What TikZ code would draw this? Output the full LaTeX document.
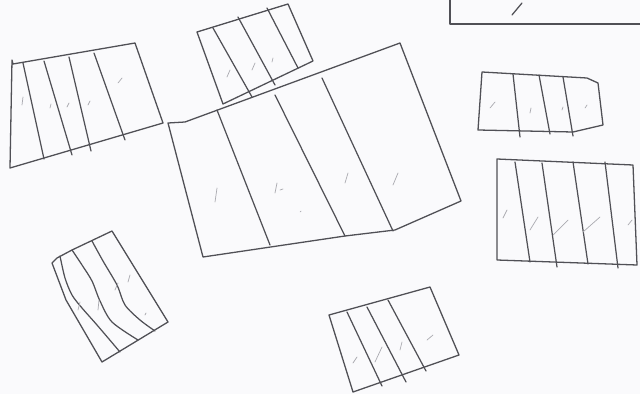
\documentclass[tikz,border=0pt]{standalone}
\usepackage{tikz}
\usetikzlibrary{calc}
\definecolor{paper}{RGB}{250,250,252}
\definecolor{pencil}{RGB}{80,80,86}
\definecolor{smudge}{RGB}{170,170,176}

\begin{document}
\begin{tikzpicture}[x=0.03cm,y=-0.03cm,
  outline/.style={draw=pencil, line width=1.1pt, line join=round, line cap=round},
  stripe/.style={draw=pencil, line width=1.05pt, line cap=round},
  tick/.style={draw=smudge, line width=0.6pt, line cap=round}]
\fill[paper] (0,0) rectangle (640,394);
\useasboundingbox (0,0) rectangle (640,394);
% top right corner box
\draw[outline] (450,-5) -- (450,24) -- (645,24);
\draw[stripe] (512,15) -- (522,3);
% top left panel
\draw[outline] (12,60) -- (13,64) -- (135,43) -- (163,123) -- (10,168) -- cycle;
\draw[stripe] (23,63) -- (44,159);
\draw[stripe] (44,61) -- (72,155);
\draw[stripe] (69,57) -- (91,151);
\draw[stripe] (94,53) -- (125,140);
\draw[tick] (22,105) -- (23,97) (118,83) -- (122,78) (50,108) -- (51,104) (67,107) -- (69,103) (88,105) -- (90,101);
% top middle panel
\draw[outline] (197,32) -- (288,4) -- (313,61) -- (223,104) -- cycle;
\draw[stripe] (213,28) -- (252,97);
\draw[stripe] (238,17) -- (275,85);
\draw[stripe] (267,8) -- (298,68);
\draw[tick] (227,77) -- (230,70) (252,70) -- (255,63) (272,62) -- (273,58);
% large centre panel
\draw[outline] (168,123) -- (185,122) -- (400,43) -- (461,201) -- (395,230) -- (345,236) -- (203,257) -- cycle;
\draw[stripe] (217,110) -- (270,245);
\draw[stripe] (275,95) -- (345,236);
\draw[stripe] (322,78) -- (393,231);
\draw[tick] (215,202) -- (217,188) (275,193) -- (277,183) (345,183) -- (348,173) (393,185) -- (398,173) (280,190) -- (283,189) (300,212) -- (301,211);
% right upper panel
\draw[outline] (482,72) -- (587,78) -- (598,83) -- (603,125) -- (573,132) -- (478,130) -- cycle;
\draw[stripe] (513,74) -- (520,137);
\draw[stripe] (539,75) -- (550,134);
\draw[stripe] (563,77) -- (573,136);
\draw[tick] (490,108) -- (495,102) (530,113) -- (531,108) (585,108) -- (587,105) (562,110) -- (563,107);
% right lower panel
\draw[outline] (497,159) -- (633,165) -- (637,265) -- (497,260) -- cycle;
\draw[stripe] (515,162) -- (530,262);
\draw[stripe] (542,163) -- (557,267);
\draw[stripe] (573,162) -- (588,264);
\draw[stripe] (605,162) -- (618,268);
\draw[tick] (503,218) -- (507,210) (530,230) -- (538,217) (553,235) -- (568,220) (583,232) -- (600,217) (628,225) -- (632,220);
% lower left panel
\draw[outline] (52,263) -- (57,258) -- (72,250) -- (112,231) -- (168,322) -- (102,362) -- (66,300) -- cycle;
\draw[stripe] plot[smooth] coordinates {(60,256) (65,278) (72,295) (82,308) (97,325) (120,352)};
\draw[stripe] plot[smooth] coordinates {(72,250) (82,265) (92,281) (100,301) (112,322) (138,340)};
\draw[stripe] plot[smooth] coordinates {(92,241) (103,261) (117,285) (125,305) (140,320) (155,331)};
\draw[tick] (78,310) -- (80,302) (98,310) -- (99,300) (115,290) -- (118,283) (128,282) -- (130,275) (145,315) -- (146,313);
% lower middle panel
\draw[outline] (329,315) -- (430,287) -- (459,355) -- (353,392) -- cycle;
\draw[stripe] (347,312) -- (382,386);
\draw[stripe] (367,307) -- (406,382);
\draw[stripe] (388,300) -- (426,371);
\draw[tick] (353,363) -- (357,357) (375,362) -- (382,347) (400,350) -- (402,342) (427,340) -- (433,335);
\end{tikzpicture}
\end{document}
